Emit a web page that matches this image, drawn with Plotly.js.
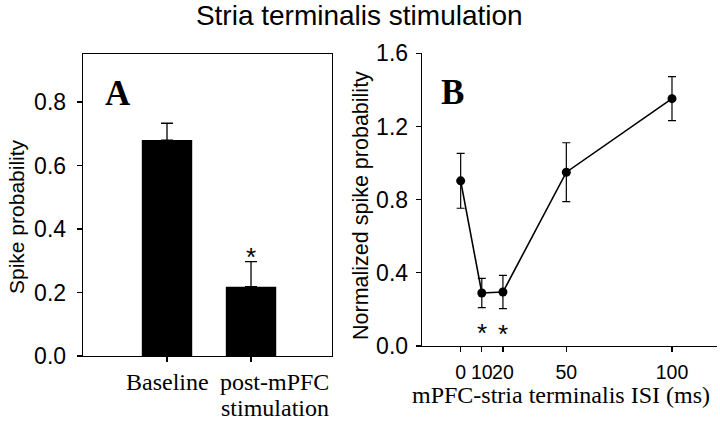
<!DOCTYPE html>
<html>
<head>
<meta charset="utf-8">
<script src="https://cdn.plot.ly/plotly-3.0.1.min.js"></script>
<style>html,body{margin:0;padding:0;background:#fff;}#chart{width:720px;height:426px;}</style>
</head>
<body>
<div id="chart"></div>
<script>
// ---- Data ----
var categoriesA = ['Baseline', 'post-mPFC stimulation'];
var categoryLinesA = [['Baseline'], ['post-mPFC', 'stimulation']];
var spikeProbA = [0.68, 0.218];
var spikeErrA = [0.053, 0.079];
var sigA = [false, true];

var isiB = [0, 10, 20, 50, 100];
var isiTickLabels = ['0', '10', '20', '50', '100'];
var normProbB = [0.903, 0.29, 0.295, 0.95, 1.352];
var normErrB = [0.15, 0.08, 0.091, 0.161, 0.12];
var sigB = [false, true, true, false, false];

var yTicksA = [0, 0.2, 0.4, 0.6, 0.8];
var yTicksB = [0, 0.4, 0.8, 1.2, 1.6];

// ---- Styling ----
var SANS = 'Liberation Sans, Arial, sans-serif';
var SERIF = 'Liberation Serif, Times New Roman, serif';
var W = 720, H = 426;
function px(x) { return x / W; }
function py(y) { return (H - y) / H; }

var idxA = categoriesA.map(function (c, i) { return i; });

var traces = [
  {
    type: 'bar', x: idxA, y: spikeProbA, width: 0.6,
    marker: { color: '#000', line: { width: 0 } },
    error_y: { type: 'data', array: spikeErrA, arrayminus: spikeErrA.map(function () { return 0; }),
               symmetric: false, color: '#000', thickness: 1.3, width: 6 },
    xaxis: 'x', yaxis: 'y', showlegend: false, hoverinfo: 'none'
  },
  {
    type: 'scatter', mode: 'lines+markers', x: isiB, y: normProbB,
    line: { color: '#000', width: 1.6 },
    marker: { color: '#000', size: 9 },
    error_y: { type: 'data', array: normErrB, color: '#000', thickness: 1.2, width: 4 },
    xaxis: 'x2', yaxis: 'y2', showlegend: false, hoverinfo: 'none'
  }
];

var annotations = [];
// Category labels for panel A
categoryLinesA.forEach(function (lines, i) {
  lines.forEach(function (t, j) {
    var multi = lines.length > 1;
    annotations.push({
      xref: 'x', yref: 'paper', x: multi ? 1.95 : i, y: py(356),
      xanchor: multi ? 'right' : 'center', yanchor: 'top', yshift: -11 - j * 26,
      text: t, showarrow: false, font: { family: SERIF, size: 24, color: '#000' }
    });
  });
});
// Significance asterisks
sigA.forEach(function (s, i) {
  if (s) annotations.push({ xref: 'x', yref: 'y', x: i, y: spikeProbA[i] + spikeErrA[i],
    yanchor: 'bottom', yshift: -12, text: '*', showarrow: false,
    font: { family: SANS, size: 26, color: '#000' } });
});
sigB.forEach(function (s, i) {
  if (s) annotations.push({ xref: 'x2', yref: 'y2', x: isiB[i], y: normProbB[i] - normErrB[i],
    yanchor: 'top', yshift: -8, text: '*', showarrow: false,
    font: { family: SANS, size: 26, color: '#000' } });
});
// Panel letters
annotations.push({ xref: 'paper', yref: 'paper', x: px(118), y: py(94), xanchor: 'center', yanchor: 'middle',
  text: '<b>A</b>', showarrow: false, font: { family: SERIF, size: 35, color: '#000' } });
annotations.push({ xref: 'paper', yref: 'paper', x: px(452), y: py(92), xanchor: 'center', yanchor: 'middle',
  text: '<b>B</b>', showarrow: false, font: { family: SERIF, size: 35, color: '#000' } });
// Axis titles
annotations.push({ xref: 'paper', yref: 'paper', x: px(16), y: py(217), xanchor: 'center', yanchor: 'middle',
  textangle: -90, text: 'Spike probability', showarrow: false, font: { family: SANS, size: 21, color: '#000' } });
annotations.push({ xref: 'paper', yref: 'paper', x: px(361), y: py(206), xanchor: 'center', yanchor: 'middle',
  textangle: -90, text: 'Normalized spike probability', showarrow: false, font: { family: SANS, size: 21.5, color: '#000' } });
annotations.push({ xref: 'paper', yref: 'paper', x: px(561), y: py(395), xanchor: 'center', yanchor: 'middle',
  text: 'mPFC-stria terminalis ISI (ms)', showarrow: false, font: { family: SERIF, size: 24, color: '#000' } });

var axisCommon = { showgrid: false, zeroline: false, showline: true, linecolor: '#000', linewidth: 1.3,
  ticks: 'outside', tickcolor: '#000', tickwidth: 1.2, ticklen: 5, fixedrange: true, tickangle: 0 };

var layout = {
  width: W, height: H,
  margin: { l: 0, r: 0, t: 0, b: 0 },
  paper_bgcolor: '#fff', plot_bgcolor: '#fff',
  title: { text: 'Stria terminalis stimulation', x: 0.499, xanchor: 'center', y: 1 - 15 / H, yanchor: 'middle',
           font: { family: SANS, size: 28, color: '#000' } },
  xaxis: Object.assign({}, axisCommon, { domain: [px(83), px(332)], range: [-1, 1.964], mirror: true,
    tickmode: 'array', tickvals: idxA, showticklabels: false, anchor: 'y' }),
  yaxis: Object.assign({}, axisCommon, { domain: [py(356), py(54)], range: [0, 0.951], mirror: true,
    tickmode: 'array', tickvals: yTicksA, tickformat: '.1f', ticklabelstandoff: 6,
    tickfont: { family: SANS, size: 23, color: '#000' }, anchor: 'x' }),
  xaxis2: Object.assign({}, axisCommon, { domain: [px(422), px(717)], range: [-18.3, 121.3],
    tickmode: 'array', tickvals: isiB, ticktext: isiTickLabels, ticklabelstandoff: 3,
    tickfont: { family: SANS, size: 19.5, color: '#000' }, anchor: 'y2' }),
  yaxis2: Object.assign({}, axisCommon, { domain: [py(346), py(53.3)], range: [0, 1.6],
    tickmode: 'array', tickvals: yTicksB, tickformat: '.1f', ticklabelstandoff: 3,
    tickfont: { family: SANS, size: 23, color: '#000' }, anchor: 'x2' }),
  annotations: annotations
};

Plotly.newPlot('chart', traces, layout, { displayModeBar: false, staticPlot: true });
</script>
</body>
</html>
